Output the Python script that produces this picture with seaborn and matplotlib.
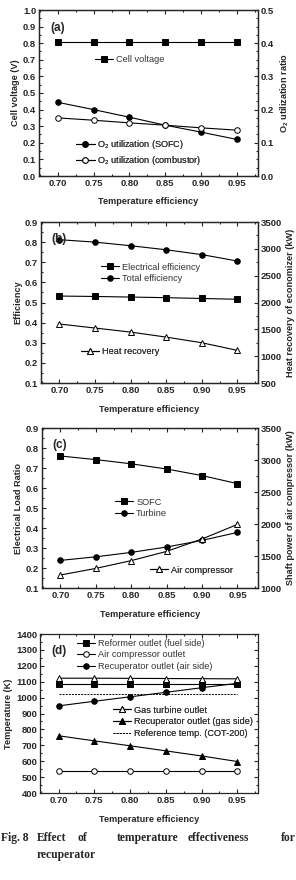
import numpy as np
import pandas as pd
import matplotlib
matplotlib.use("Agg")
import matplotlib.pyplot as plt
from matplotlib.ticker import MultipleLocator
import seaborn as sns

# data
temp_eff = [0.70, 0.75, 0.80, 0.85, 0.90, 0.95]

# (a)
cell_voltage = [0.807, 0.807, 0.807, 0.807, 0.807, 0.807]
o2_util_sofc = [0.222, 0.200, 0.177, 0.153, 0.132, 0.110]
o2_util_comb = [0.175, 0.168, 0.160, 0.153, 0.145, 0.138]

# (b)
elec_eff = [0.532, 0.530, 0.527, 0.524, 0.520, 0.516]
total_eff = [0.812, 0.800, 0.782, 0.762, 0.738, 0.706]
heat_recovery = [1599, 1524, 1449, 1355, 1250, 1108]

# (c)
load_sofc = [0.760, 0.742, 0.721, 0.695, 0.662, 0.622]
load_turbine = [0.238, 0.256, 0.278, 0.305, 0.338, 0.378]
air_comp_power = [1203, 1306, 1428, 1572, 1766, 1994]

# (d)
t_reformer = [1085, 1085, 1085, 1085, 1085, 1085]
t_aircomp = [537, 537, 537, 537, 537, 537]
t_recup_air = [948, 977, 1005, 1033, 1062, 1090]
t_gt_out = [1122, 1122, 1121, 1120, 1119, 1118]
t_recup_gas = [760, 728, 697, 665, 633, 598]
t_reference = [1020, 1020, 1020, 1020, 1020, 1020]

sns.set_style("ticks")
plt.rcParams['font.family'] = ['Liberation Sans', 'DejaVu Sans']
plt.rcParams['mathtext.fontset'] = 'custom'
plt.rcParams['mathtext.rm'] = 'Liberation Sans'
plt.rcParams['mathtext.bf'] = 'Liberation Sans:bold'

TICK_FS = 6.8
LAB_FS = 6.6
LEG_FS = 6.6
LW = 0.8
MS = 4

fig = plt.figure(figsize=(2.96, 8.8), dpi=100)


def style_axis(ax, ylim, ymaj, ymin):
    ax.set_xlim(0.674, 0.979)
    ax.set_ylim(*ylim)
    ax.xaxis.set_major_locator(MultipleLocator(0.05))
    ax.xaxis.set_minor_locator(MultipleLocator(0.025))
    ax.yaxis.set_major_locator(MultipleLocator(ymaj))
    ax.yaxis.set_minor_locator(MultipleLocator(ymin))
    ax.tick_params(which='both', direction='in', width=0.8, labelsize=TICK_FS, pad=2)
    ax.tick_params(which='major', length=3)
    ax.tick_params(which='minor', length=1.6)
    for s in ax.spines.values():
        s.set_linewidth(0.9)
        s.set_visible(True)
    for lab in ax.get_xticklabels() + ax.get_yticklabels():
        lab.set_fontweight('bold')


def draw(ax, y, marker, face, label, ls='-'):
    sns.lineplot(x=temp_eff, y=y, ax=ax, color='k', lw=LW, ls=ls,
                 marker=marker if marker else None, markersize=MS,
                 markerfacecolor=face, markeredgecolor='k', markeredgewidth=0.7,
                 legend=False)
    line = ax.lines[-1]
    line.set_label(label)
    return line


def add_legend(ax, handles, x, y):
    leg = ax.legend(handles=handles, loc='center left', bbox_to_anchor=(x, y),
                    frameon=False, fontsize=LEG_FS, handlelength=2.0,
                    handletextpad=0.3, labelspacing=0.3, borderpad=0,
                    borderaxespad=0)
    for t in leg.get_texts():
        t.set_color('#333333')
    ax.add_artist(leg)
    return leg


def finish(ax, ylabel, tag):
    ax.set_xlabel('Temperature efficiency', fontsize=LAB_FS, fontweight='bold', labelpad=7)
    ax.set_ylabel(ylabel, fontsize=LAB_FS, fontweight='bold', labelpad=2)
    ax.text(0.05, 0.93, tag, transform=ax.transAxes, fontsize=8.5,
            fontweight='bold', va='top', ha='left')


W, H = 296, 880
def pos(l, r, t, b):
    return [l / W, 1 - b / H, (r - l) / W, (b - t) / H]

# ---------- (a) ----------
ax = fig.add_axes(pos(39, 258, 10, 176))
ax2 = ax.twinx()
style_axis(ax, (0, 1.0), 0.1, 0.05)
style_axis(ax2, (0, 0.5), 0.1, 0.025)
ax.tick_params(right=False, top=True, which='both')
ax2.tick_params(top=True, which='both')
h1 = draw(ax, cell_voltage, 's', 'k', 'Cell voltage')
h2 = draw(ax2, o2_util_sofc, 'o', 'k', r'O$_2$ utilization (SOFC)')
h3 = draw(ax2, o2_util_comb, 'o', 'white', r'O$_2$ utilization (combustor)')
finish(ax, 'Cell voltage (V)', '(a)')
ax2.set_ylabel(r'$\mathbf{O_2}$ utilization ratio', fontsize=LAB_FS, fontweight='bold', labelpad=3)
ax2.set_xlabel('')
add_legend(ax2, [h1], 0.255, 0.70)
add_legend(ax2, [h2, h3], 0.17, 0.14)

# ---------- (b) ----------
ax = fig.add_axes(pos(41, 258, 222, 383))
ax2 = ax.twinx()
style_axis(ax, (0.1, 0.9), 0.1, 0.05)
style_axis(ax2, (500, 3500), 500, 250)
ax.tick_params(right=False, top=True, which='both')
h1 = draw(ax, elec_eff, 's', 'k', 'Electrical efficiency')
h2 = draw(ax, total_eff, 'o', 'k', 'Total efficiency')
h3 = draw(ax2, heat_recovery, '^', 'white', 'Heat recovery')
finish(ax, 'Efficiency', '(b)')
ax2.set_ylabel('Heat recovery of economizer (kW)', fontsize=LAB_FS, fontweight='bold', labelpad=3)
ax2.set_xlabel('')
add_legend(ax2, [h1, h2], 0.276, 0.683)
add_legend(ax2, [h3], 0.184, 0.193)

# ---------- (c) ----------
ax = fig.add_axes(pos(42, 258, 428, 588))
ax2 = ax.twinx()
style_axis(ax, (0.1, 0.9), 0.1, 0.05)
style_axis(ax2, (1000, 3500), 500, 250)
ax.tick_params(right=False, top=True, which='both')
h1 = draw(ax, load_sofc, 's', 'k', 'SOFC')
h2 = draw(ax, load_turbine, 'o', 'k', 'Turbine')
h3 = draw(ax2, air_comp_power, '^', 'white', 'Air compressor')
finish(ax, 'Electrical Load Ratio', '(c)')
ax2.set_ylabel('Shaft power of air compressor (kW)', fontsize=LAB_FS, fontweight='bold', labelpad=3)
ax2.set_xlabel('')
add_legend(ax2, [h1, h2], 0.338, 0.50)
add_legend(ax2, [h3], 0.50, 0.1125)

# ---------- (d) ----------
ax = fig.add_axes(pos(40, 258, 634, 793))
style_axis(ax, (400, 1400), 100, 50)
ax.tick_params(right=True, top=True, which='both')
h1 = draw(ax, t_reformer, 's', 'k', 'Reformer outlet (fuel side)')
h2 = draw(ax, t_aircomp, 'o', 'white', 'Air compressor outlet')
h3 = draw(ax, t_recup_air, 'o', 'k', 'Recuperator outlet (air side)')
h4 = draw(ax, t_gt_out, '^', 'white', 'Gas turbine outlet')
h5 = draw(ax, t_recup_gas, '^', 'k', 'Recuperator outlet (gas side)')
h6 = draw(ax, t_reference, None, 'k', 'Reference temp. (COT-200)', ls=(0, (2, 1.2)))
h6.set_linewidth(0.7)
finish(ax, 'Temperature (K)', '(d)')
add_legend(ax, [h1, h2, h3], 0.17, 0.868)
add_legend(ax, [h4, h5, h6], 0.335, 0.447)

# ---------- caption (justified line, placed word by word) ----------
cap = dict(fontsize=8.4, fontweight='bold', family=['Liberation Serif', 'DejaVu Serif'],
           va='baseline', ha='left')
for word, x in [('Fig. 8', 1), ('Effect', 37), ('of', 78), ('temperature', 117),
                ('effectiveness', 188), ('for', 281)]:
    fig.text(x / W, 1 - 841 / H, word, **cap)
fig.text(37 / W, 1 - 858 / H, 'recuperator', **cap)

fig.savefig('out.png', dpi=100)
